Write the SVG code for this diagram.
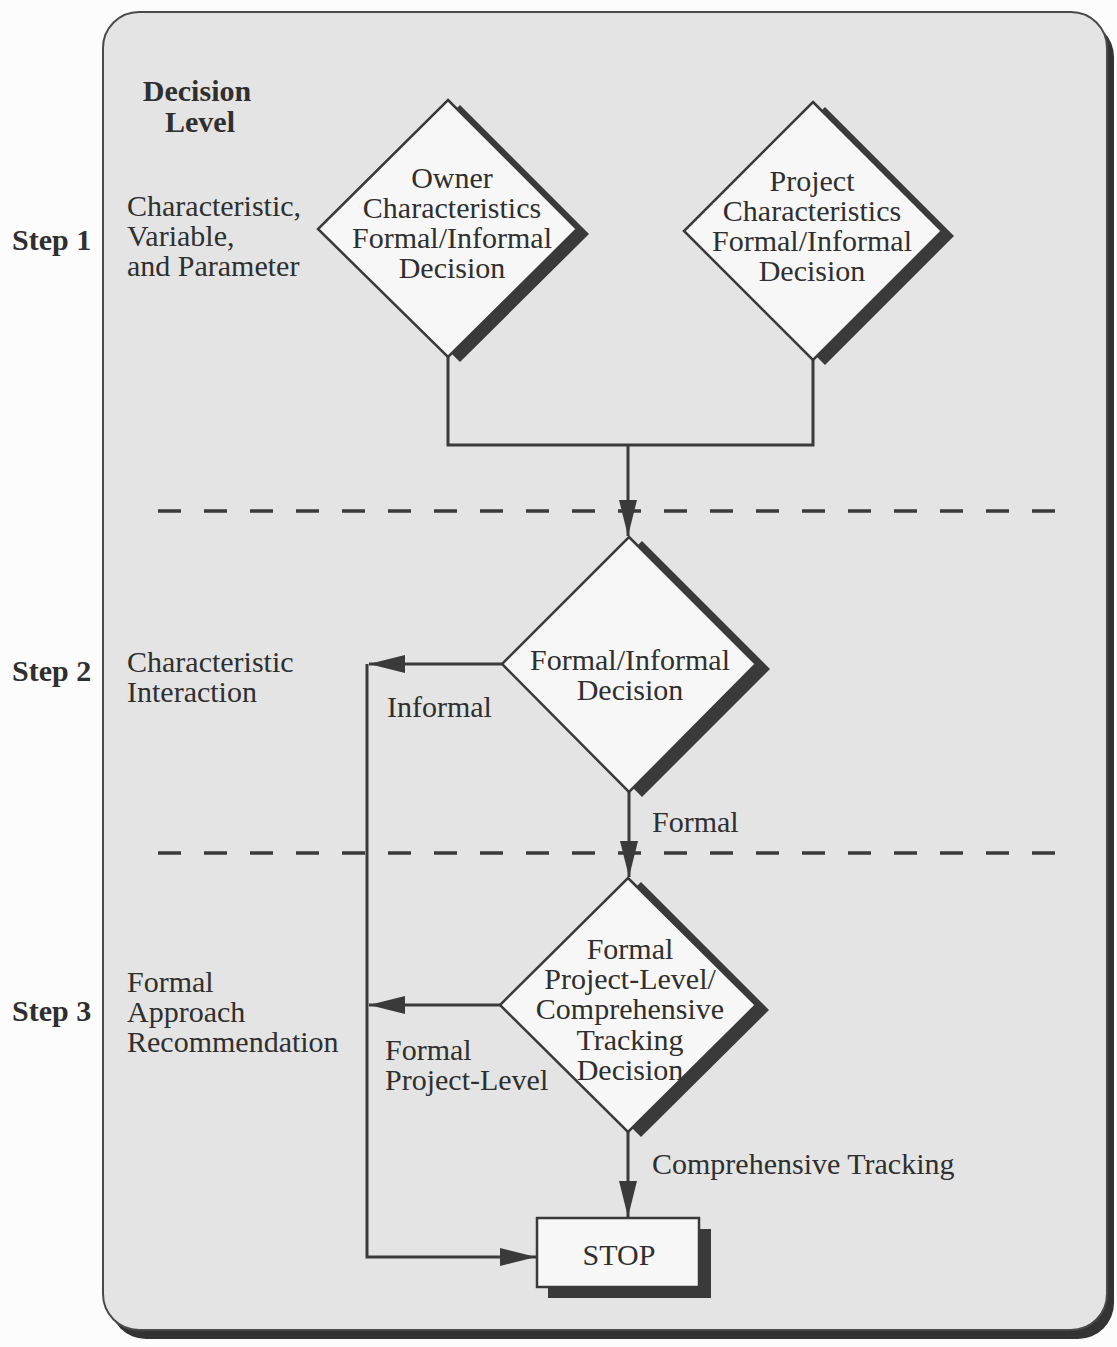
<svg xmlns="http://www.w3.org/2000/svg" width="1117" height="1347" viewBox="0 0 1117 1347">
  <defs>
    <marker id="arrow" markerUnits="userSpaceOnUse" markerWidth="36" markerHeight="18" refX="36" refY="9" orient="auto">
      <path d="M0,0 L36,9 L0,18 Z" fill="#3a3a3a"/>
    </marker>
    <style>
      .txt { font-family: "Liberation Serif", "Times New Roman", serif; font-size: 30px; fill: #2f2f2f; }
      .bold { font-weight: bold; }
      .mid { text-anchor: middle; }
      .shadow { fill: #3a3a3a; }
      .box { fill: #f7f7f7; stroke: #3a3a3a; stroke-width: 2.5; }
      .conn { fill: none; stroke: #3a3a3a; stroke-width: 3; }
      .dash { fill: none; stroke: #3a3a3a; stroke-width: 3.5; stroke-dasharray: 23 23; }
    </style>
  </defs>

  <rect width="1117" height="1347" fill="#fcfcfc"/>

  <!-- outer panel with drop shadow -->
  <g id="panel">
    <rect x="110" y="21" width="1004" height="1318" rx="36" fill="#333"/>
    <rect x="103" y="12" width="1004" height="1318" rx="36" fill="#e4e4e4" stroke="#4a4a4a" stroke-width="2"/>
  </g>

  <!-- step and level labels -->
  <g id="labels">
    <text class="txt bold mid" x="197" y="101">Decision</text>
    <text class="txt bold mid" x="200" y="132">Level</text>
    <text class="txt bold" x="12" y="250">Step 1</text>
    <text class="txt bold" x="12" y="681">Step 2</text>
    <text class="txt bold" x="12" y="1021">Step 3</text>
    <text class="txt" x="127" y="216">Characteristic,</text>
    <text class="txt" x="127" y="246">Variable,</text>
    <text class="txt" x="127" y="276">and Parameter</text>
    <text class="txt" x="127" y="672">Characteristic</text>
    <text class="txt" x="127" y="702">Interaction</text>
    <text class="txt" x="127" y="992">Formal</text>
    <text class="txt" x="127" y="1022">Approach</text>
    <text class="txt" x="127" y="1052">Recommendation</text>
  </g>

  <!-- step separators -->
  <g id="separators">
    <path class="dash" d="M158,511 H1058"/>
    <path class="dash" d="M158,853 H1058"/>
  </g>

  <!-- connectors -->
  <g id="connectors">
    <path class="conn" d="M448,357 V445 H813 V360"/>
    <path class="conn" d="M628,445 V536" marker-end="url(#arrow)"/>
    <path class="conn" d="M629,792 V877" marker-end="url(#arrow)"/>
    <path class="conn" d="M502,664 H369" marker-end="url(#arrow)"/>
    <path class="conn" d="M500,1005 H369" marker-end="url(#arrow)"/>
    <path class="conn" d="M367,664 V1257 H536" marker-end="url(#arrow)"/>
    <path class="conn" d="M628,1132 V1217" marker-end="url(#arrow)"/>
    <text class="txt" x="387" y="717">Informal</text>
    <text class="txt" x="652" y="832">Formal</text>
    <text class="txt" x="385" y="1060">Formal</text>
    <text class="txt" x="385" y="1090">Project-Level</text>
    <text class="txt" x="652" y="1174">Comprehensive Tracking</text>
  </g>

  <g id="owner-decision">
    <polygon class="shadow" points="460,105 589,234 460,362 330,234"/>
    <polygon class="box" points="448,100 577,229 448,357 318,229"/>
    <text class="txt mid" x="452" y="188">Owner</text>
    <text class="txt mid" x="452" y="218">Characteristics</text>
    <text class="txt mid" x="452" y="248">Formal/Informal</text>
    <text class="txt mid" x="452" y="278">Decision</text>
  </g>

  <g id="project-decision">
    <polygon class="shadow" points="825,107 954,236 825,365 696,236"/>
    <polygon class="box" points="813,102 942,231 813,360 684,231"/>
    <text class="txt mid" x="812" y="191">Project</text>
    <text class="txt mid" x="812" y="221">Characteristics</text>
    <text class="txt mid" x="812" y="251">Formal/Informal</text>
    <text class="txt mid" x="812" y="281">Decision</text>
  </g>

  <g id="interaction-decision">
    <polygon class="shadow" points="642,541 770,669 642,797 515,669"/>
    <polygon class="box" points="629,537 756,664 629,792 502,664"/>
    <text class="txt mid" x="630" y="670">Formal/Informal</text>
    <text class="txt mid" x="630" y="700">Decision</text>
  </g>

  <g id="tracking-decision">
    <polygon class="shadow" points="641,882 769,1010 641,1137 513,1010"/>
    <polygon class="box" points="628,878 756,1005 628,1132 500,1005"/>
    <text class="txt mid" x="630" y="959">Formal</text>
    <text class="txt mid" x="630" y="989">Project-Level/</text>
    <text class="txt mid" x="630" y="1019">Comprehensive</text>
    <text class="txt mid" x="630" y="1050">Tracking</text>
    <text class="txt mid" x="630" y="1080">Decision</text>
  </g>

  <g id="stop">
    <rect class="shadow" x="548" y="1229" width="163" height="69"/>
    <rect class="box" x="537" y="1218" width="162" height="69"/>
    <text class="txt mid" x="619" y="1265">STOP</text>
  </g>
</svg>
